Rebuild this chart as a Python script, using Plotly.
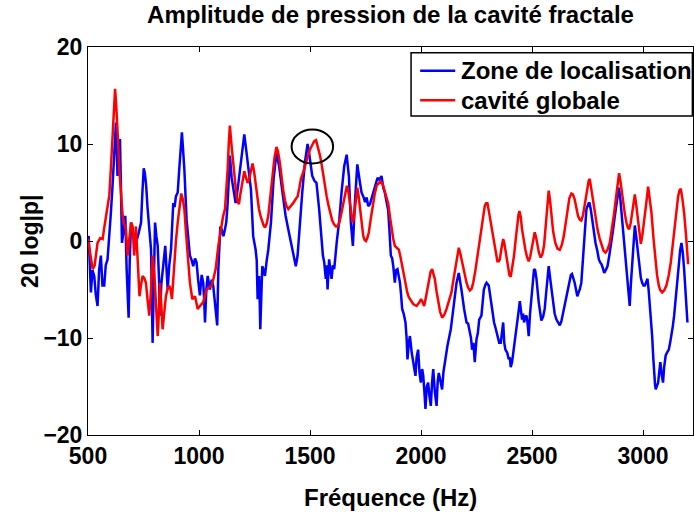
# ======================================
# Amplitude de pression - cavité fractale
# ======================================

import plotly.graph_objects as go

# ======================================
# DATA
# ======================================

zone_freq = [
    500, 503, 513, 520, 528, 535, 543, 550, 558, 565, 573, 580, 588, 595,
    603, 610, 618, 626, 633, 638, 644, 648, 653, 660, 668, 674, 683, 688,
    694, 705, 716, 728, 739, 745, 751, 756, 762, 768, 774, 784, 791, 797,
    802, 808, 814, 820, 824, 830, 836, 842, 848, 854, 859, 866, 874, 884,
    890, 896, 904, 911, 918, 923, 928, 934, 944, 952, 959, 967, 974, 982,
    989, 996, 1004, 1012, 1019, 1023, 1027, 1033, 1039, 1049, 1057, 1064,
    1070, 1075, 1082, 1087, 1091, 1096, 1102, 1110, 1117, 1123, 1129, 1134,
    1139, 1147, 1154, 1160, 1165, 1175, 1184, 1195, 1204, 1212, 1219, 1234,
    1244, 1255, 1260, 1264, 1268, 1271, 1276, 1280, 1285, 1291, 1297, 1305,
    1312, 1324, 1336, 1349, 1361, 1376, 1390, 1402, 1414, 1424, 1430, 1436,
    1444, 1454, 1465, 1477, 1489, 1495, 1500, 1510, 1520, 1529, 1541, 1552,
    1558, 1564, 1571, 1575, 1579, 1586, 1592, 1597, 1603, 1609, 1620, 1632,
    1642, 1654, 1665, 1675, 1684, 1693, 1702, 1713, 1725, 1732, 1740, 1748,
    1755, 1762, 1770, 1785, 1795, 1804, 1812, 1822, 1830, 1837, 1845, 1852,
    1858, 1864, 1870, 1875, 1882, 1888, 1894, 1900, 1905, 1910, 1915, 1922,
    1930, 1935, 1939, 1945, 1950, 1958, 1965, 1970, 1975, 1980, 1987, 1993,
    1999, 2005, 2010, 2015, 2020, 2026, 2032, 2038, 2044, 2050, 2055, 2062,
    2070, 2075, 2080, 2088, 2095, 2101, 2107, 2113, 2119, 2126, 2134, 2140,
    2149, 2155, 2160, 2170, 2176, 2182, 2194, 2205, 2212, 2220, 2225, 2230,
    2236, 2242, 2250, 2256, 2262, 2272, 2278, 2283, 2290, 2295, 2305, 2310,
    2317, 2323, 2329, 2336, 2344, 2352, 2359, 2365, 2370, 2375, 2380, 2388,
    2395, 2400, 2404, 2410, 2415, 2425, 2437, 2445, 2450, 2455, 2460, 2464,
    2470, 2475, 2480, 2485, 2491, 2497, 2503, 2509, 2514, 2520, 2530, 2537,
    2542, 2550, 2557, 2565, 2575, 2584, 2595, 2602, 2610, 2618, 2625, 2632,
    2640, 2648, 2655, 2662, 2670, 2675, 2680, 2686, 2692, 2698, 2704, 2710,
    2715, 2722, 2728, 2734, 2745, 2755, 2759, 2765, 2771, 2779, 2786, 2794,
    2801, 2807, 2813, 2819, 2825, 2832, 2840, 2848, 2855, 2864, 2873, 2882,
    2891, 2897, 2903, 2909, 2915, 2920, 2925, 2929, 2933, 2937, 2940, 2945,
    2951, 2957, 2963, 2969, 2975, 2980, 2985, 2990, 2996, 3002, 3008, 3014,
    3020, 3025, 3030, 3036, 3041, 3046, 3050, 3054, 3057, 3062, 3068, 3073,
    3078, 3084, 3090, 3095, 3102, 3108, 3116, 3122, 3128, 3134, 3140, 3145,
    3150, 3156, 3161, 3167, 3173, 3179, 3185, 3190, 3195, 3200,
]

zone_db = [
    0.3, 0.5, -5.3, -3.0, -3.6, -5.5, -6.7, -3.0, -1.5, -4.6, -4.6, -2.5, -1.9, 0.0,
    2.9, 5.5, 8.8, 12.2, 6.7, 9.0, 10.5, 6.0, -0.2, 1.0, 2.6, -2.9, -7.9, -2.0,
    1.9, 0.5, -0.2, 0.8, 1.9, 5.0, 7.5, 7.0, 5.7, 3.5, 1.9, -0.9, -10.5, -3.0,
    1.9, 0.5, -0.5, -4.0, -7.7, -4.5, -2.9, -1.2, -0.5, -3.0, -5.0, -2.5, -0.9, 3.9,
    3.5, 4.6, 5.0, 7.4, 9.5, 11.2, 9.5, 7.4, 2.2, 0.2, -1.5, -2.0, -2.6, -1.8,
    -2.2, -4.0, -5.6, -3.5, -4.3, -6.0, -8.4, -5.0, -3.6, -5.0, -4.0, -4.6,
    -6.0, -7.4, -8.7, -3.0, -0.2, 1.5, 1.2, 0.5, 1.2, 2.0, 3.9, 6.0,
    8.8, 6.5, 5.3, 4.5, 3.9, 5.5, 7.4, 9.5, 11.0, 9.5, 8.1, 5.3,
    0.5, -0.9, -2.0, -6.0, -4.0, -3.6, -9.1, -4.5, -2.6, -3.0, -3.6, -2.0,
    -0.9, 1.9, 6.4, 9.1, 7.7, 5.0, 2.6, 1.2, -0.2, -1.5, -2.2, -2.6,
    -1.5, 1.9, 5.0, 8.1, 10.0, 9.2, 8.4, 6.7, 6.2, 6.0, 3.3, -0.2,
    -1.5, -2.2, -3.9, -2.5, -5.0, -1.9, -3.0, -3.9, -2.5, -2.9, -0.2, 2.2,
    5.0, 7.7, 8.9, 6.7, 1.9, -0.5, 3.9, 7.9, 6.0, 5.0, 4.6, 4.0,
    4.5, 3.6, 3.8, 5.0, 5.8, 6.5, 6.3, 6.7, 5.5, 5.0, 4.0, 3.2,
    1.0, -1.5, -1.8, -2.6, -4.3, -3.0, -2.9, -3.5, -4.3, -5.5, -7.0, -7.5,
    -8.4, -10.0, -12.2, -10.5, -9.8, -11.5, -12.5, -13.0, -13.9, -12.0, -11.2, -13.5,
    -14.6, -13.2, -13.9, -15.5, -17.3, -15.0, -14.6, -16.0, -17.0, -14.5, -13.2, -15.5,
    -17.0, -14.5, -13.6, -14.5, -15.3, -13.5, -12.5, -11.5, -10.8, -10.0, -9.1, -8.0,
    -6.3, -5.0, -4.3, -3.3, -4.0, -5.0, -7.0, -8.4, -8.5, -9.4, -10.0, -11.2,
    -10.5, -12.5, -10.1, -9.5, -8.1, -7.7, -6.0, -5.0, -4.5, -4.3, -4.6, -5.5,
    -6.7, -7.5, -8.4, -9.0, -9.8, -10.5, -10.5, -9.0, -8.4, -10.5, -11.2, -11.5,
    -12.2, -12.0, -13.0, -12.5, -11.5, -9.8, -7.7, -6.2, -7.5, -8.1, -7.5, -8.4,
    -7.8, -7.7, -8.5, -9.8, -7.5, -5.7, -4.0, -2.9, -3.0, -3.9, -6.3, -7.5,
    -8.2, -7.8, -7.0, -5.0, -2.6, -4.3, -6.3, -7.5, -8.1, -8.5, -8.7, -8.3,
    -7.4, -6.5, -5.7, -4.8, -3.9, -3.5, -3.4, -3.8, -4.3, -5.0, -5.7, -5.3,
    -5.0, -4.3, -2.0, 0.2, 3.3, 3.9, 3.9, 3.2, 2.2, 1.0, -0.2, -1.0,
    -1.9, -2.2, -2.4, -2.8, -3.3, -3.0, -2.6, -1.5, -0.5, 1.0, 2.6, 4.0,
    5.5, 4.5, 2.9, 1.5, 0.2, -1.0, -2.2, -3.5, -5.0, -6.0, -6.7, -4.5,
    -2.2, 0.0, 1.6, 0.5, -0.9, -2.0, -2.9, -3.8, -4.3, -4.6, -4.6, -4.3,
    -3.9, -5.0, -6.3, -8.0, -9.8, -12.0, -13.9, -14.8, -15.3, -15.0, -14.6, -13.5,
    -12.5, -13.8, -14.6, -13.0, -11.8, -11.5, -11.2, -10.5, -9.8, -8.8, -7.7, -6.5,
    -5.0, -3.5, -2.2, -1.0, -0.2, -1.2, -2.9, -4.5, -6.0, -8.4,
]

globale_freq = [
    500, 510, 521, 530, 543, 555, 566, 574, 581, 588, 596, 603, 611, 617,
    622, 627, 631, 636, 641, 648, 656, 663, 671, 678, 686, 694, 701, 708,
    716, 724, 732, 739, 746, 753, 761, 768, 776, 784, 791, 799, 806, 814,
    819, 824, 830, 836, 843, 851, 858, 866, 872, 878, 884, 889, 896, 904,
    912, 920, 927, 934, 941, 949, 959, 970, 982, 994, 1004, 1019, 1034, 1045,
    1057, 1066, 1075, 1087, 1099, 1108, 1117, 1123, 1129, 1134, 1139, 1146,
    1154, 1162, 1169, 1175, 1180, 1186, 1192, 1198, 1204, 1212, 1219, 1224,
    1229, 1235, 1241, 1248, 1255, 1262, 1270, 1278, 1285, 1291, 1297, 1305,
    1312, 1320, 1330, 1340, 1349, 1356, 1364, 1371, 1379, 1387, 1394, 1402,
    1410, 1424, 1435, 1444, 1452, 1459, 1468, 1477, 1488, 1499, 1510, 1519,
    1527, 1535, 1545, 1553, 1560, 1568, 1575, 1583, 1590, 1600, 1609, 1617,
    1624, 1632, 1639, 1647, 1654, 1660, 1666, 1672, 1677, 1684, 1692, 1697,
    1702, 1708, 1713, 1719, 1725, 1732, 1740, 1746, 1752, 1758, 1765, 1773,
    1782, 1791, 1800, 1809, 1818, 1828, 1837, 1845, 1852, 1860, 1867, 1875,
    1882, 1890, 1900, 1908, 1915, 1922, 1930, 1938, 1945, 1955, 1965, 1972,
    1980, 1990, 2000, 2007, 2014, 2022, 2029, 2036, 2043, 2050, 2056, 2062,
    2070, 2077, 2086, 2095, 2105, 2115, 2125, 2137, 2146, 2155, 2162, 2170,
    2177, 2185, 2195, 2205, 2212, 2220, 2228, 2235, 2245, 2254, 2263, 2272,
    2280, 2287, 2293, 2299, 2306, 2314, 2321, 2329, 2336, 2344, 2350, 2355,
    2362, 2370, 2375, 2380, 2386, 2392, 2398, 2404, 2411, 2419, 2427, 2434,
    2439, 2443, 2449, 2455, 2462, 2470, 2478, 2485, 2492, 2500, 2506, 2512,
    2518, 2524, 2531, 2539, 2546, 2554, 2560, 2565, 2570, 2575, 2581, 2587,
    2595, 2605, 2615, 2625, 2634, 2643, 2651, 2659, 2668, 2677, 2684, 2692,
    2700, 2707, 2715, 2722, 2730, 2737, 2745, 2750, 2755, 2760, 2766, 2775,
    2785, 2795, 2804, 2813, 2822, 2831, 2840, 2850, 2860, 2870, 2880, 2887,
    2892, 2898, 2904, 2910, 2918, 2925, 2931, 2937, 2944, 2951, 2957, 2963,
    2969, 2975, 2982, 2990, 2997, 3005, 3014, 3023, 3030, 3038, 3047, 3056,
    3063, 3071, 3078, 3086, 3095, 3105, 3115, 3125, 3134, 3143, 3150, 3158,
    3164, 3170, 3177, 3185, 3194, 3203,
]

globale_db = [
    0.2, -1.5, -2.9, -2.5, -0.2, 0.3, 0.2, 1.5, 2.6, 3.5, 4.7, 7.5, 10.8, 13.5,
    15.7, 14.0, 12.5, 10.0, 7.4, 5.0, 2.6, 1.8, 1.2, -1.5, 0.0, 1.9, 1.5, -1.5,
    1.5, -2.2, -5.7, -4.5, -3.6, -3.8, -4.3, -6.0, -7.7, -5.0, -1.5, -3.5, -7.0, -9.8,
    -7.5, -4.3, -6.5, -9.1, -7.5, -5.7, -5.0, -4.6, -5.0, -6.0, -4.0, -2.2, 0.0, 1.9,
    3.5, 4.9, 4.3, 3.3, 1.0, -1.8, -4.3, -6.0, -5.7, -7.0, -6.7, -6.3, -5.0, -4.8,
    -4.6, -3.8, -2.9, -0.5, 1.5, 2.5, 3.3, 5.0, 7.4, 10.0, 11.9, 10.0,
    8.1, 6.0, 4.6, 4.0, 3.8, 4.8, 5.7, 6.8, 7.2, 6.5, 6.0, 6.2,
    6.7, 7.5, 8.0, 7.2, 6.0, 4.5, 3.3, 2.5, 2.0, 1.6, 1.4, 1.8,
    2.6, 4.5, 6.7, 8.6, 9.7, 9.2, 8.1, 6.7, 5.3, 4.2, 3.6, 3.3,
    3.5, 3.9, 4.3, 4.6, 5.5, 6.4, 7.0, 7.7, 8.6, 9.4, 9.9, 10.3,
    10.4, 9.8, 8.8, 7.8, 6.7, 5.6, 4.6, 3.7, 2.9, 2.1, 1.7, 1.5,
    1.5, 1.9, 2.6, 3.6, 4.6, 5.3, 5.7, 5.2, 4.3, 3.0, 1.9, 2.3,
    3.3, 4.6, 5.5, 4.6, 3.3, 1.8, 0.5, 0.1, 0.0, 0.3, 0.9, 2.2,
    3.6, 4.8, 5.7, 6.0, 6.2, 5.8, 5.0, 4.4, 3.9, 2.5, 1.2, 0.2,
    -0.5, -0.7, -0.9, -1.7, -2.6, -3.6, -4.6, -5.3, -5.8, -6.2, -6.5, -6.6,
    -6.7, -6.4, -6.0, -6.3, -6.7, -5.8, -5.0, -4.0, -3.2, -2.9, -3.3, -3.9,
    -5.2, -6.3, -7.3, -7.9, -7.6, -7.0, -6.3, -5.3, -4.0, -2.6, -1.5, -0.7,
    -1.3, -2.2, -3.4, -4.3, -4.8, -5.1, -4.9, -4.3, -3.0, -1.5, 0.0, 1.6,
    2.8, 3.6, 3.9, 3.9, 3.0, 1.9, 0.7, -0.5, -1.4, -2.1, -2.1, -1.9,
    -0.8, 0.2, -0.2, -0.9, -2.0, -2.9, -3.5, -3.7, -2.8, -1.5, 0.3, 1.9,
    2.7, 3.1, 2.5, 1.2, 0.1, -0.9, -1.7, -2.1, -1.6, -0.5, 0.4, 0.9,
    0.4, -0.5, -1.2, -1.7, -1.4, -0.5, 1.0, 2.9, 4.3, 5.2, 4.2, 2.6,
    1.0, -0.2, -0.8, -0.9, -0.4, 0.5, 1.8, 3.3, 4.4, 4.9, 4.8, 4.3,
    3.5, 2.6, 2.2, 2.1, 2.7, 3.6, 5.0, 5.6, 6.2, 6.4, 5.5, 3.9,
    2.4, 1.2, 0.3, -0.5, -1.0, -1.2, -0.9, -0.2, 1.2, 2.9, 4.8, 6.3,
    7.0, 6.2, 5.0, 3.9, 2.8, 1.9, 1.4, 1.2, 1.8, 2.9, 4.0, 4.8,
    3.8, 2.6, 1.0, -0.3, 0.6, 1.9, 3.8, 5.6, 4.5, 2.9, 0.3, -2.2,
    -3.5, -4.6, -5.1, -5.3, -5.1, -4.6, -3.6, -2.2, -0.2, 1.9, 3.3, 4.6,
    5.2, 5.4, 4.4, 2.9, 0.5, -2.4,
]

series_names = ["Zone de localisation", "cavité globale"]
series_colors = ["#0000ff", "#ff0000"]

x_ticks = [500, 1000, 1500, 2000, 2500, 3000]
y_ticks = [-20, -10, 0, 10, 20]

# ======================================
# FIGURE
# ======================================

FONT = "Liberation Sans, Arial, Helvetica, sans-serif"

fig = go.Figure()

fig.add_trace(go.Scatter(
    x=zone_freq, y=zone_db, mode="lines",
    name=series_names[0], showlegend=False,
    line=dict(color=series_colors[0], width=2.5),
))

fig.add_trace(go.Scatter(
    x=globale_freq, y=globale_db, mode="lines",
    name=series_names[1], showlegend=False,
    line=dict(color=series_colors[1], width=2.5),
))

# circle around the peak near 1500 Hz
fig.add_shape(
    type="circle", xref="x", yref="y",
    x0=1417, x1=1604, y0=8.0, y1=11.5,
    line=dict(color="black", width=2),
)

# ======================================
# LEGEND (matlab style box, drawn by hand
# so the row spacing stays tight)
# ======================================

fig.add_shape(
    type="rect", xref="paper", yref="paper",
    x0=0.534, x1=0.999, y0=0.822, y1=0.985,
    line=dict(color="black", width=1.5), fillcolor="white",
    layer="above",
)

legend_rows = [0.939, 0.863]
for name, color, ypos in zip(series_names, series_colors, legend_rows):
    fig.add_shape(
        type="line", xref="paper", yref="paper",
        x0=0.549, x1=0.607, y0=ypos, y1=ypos,
        line=dict(color=color, width=2.5), layer="above",
    )
    fig.add_annotation(
        text="<b>" + name + "</b>", xref="paper", yref="paper",
        x=0.614, y=ypos, xanchor="left", yanchor="middle",
        showarrow=False,
        font=dict(family=FONT, size=24, color="black"),
    )

# ======================================
# AXES
# ======================================

axis_common = dict(
    showgrid=False, zeroline=False, automargin=False,
    showline=True, linecolor="black", linewidth=1,
    mirror="ticks", ticks="inside", ticklen=5, tickcolor="black",
    tickfont=dict(family=FONT, size=23, color="black", weight="bold"),
)

fig.update_xaxes(range=[500, 3225], tickvals=x_ticks, **axis_common)
fig.update_yaxes(range=[-20, 20], tickvals=y_ticks, **axis_common)

# axis titles as annotations (placed like the matlab export)
fig.add_annotation(
    text="<b>Fréquence (Hz)</b>", xref="paper", yref="paper",
    x=0.5, y=-0.16, xanchor="center", yanchor="middle", showarrow=False,
    font=dict(family=FONT, size=24, color="black"),
)
fig.add_annotation(
    text="<b>20 log|p|</b>", xref="paper", yref="paper",
    x=-0.096, y=0.5, xanchor="center", yanchor="middle", showarrow=False,
    textangle=-90,
    font=dict(family=FONT, size=23, color="black"),
)

fig.update_layout(
    width=694, height=515,
    margin=dict(l=88, r=1, t=47, b=80),
    paper_bgcolor="white", plot_bgcolor="white",
    title=dict(
        text="<b>Amplitude de pression de la cavité fractale</b>",
        xref="paper", x=0.5, xanchor="center", y=0.972, yanchor="middle",
        font=dict(family=FONT, size=24, color="black"),
    ),
    showlegend=False,
)

# drop the default 8px body margin so the figure fills the window,
# and hide the modebar that would sit on the title
fig.write_html(
    "out.html",
    config={"displayModeBar": False},
    post_script="document.body.style.margin='0';"
                "document.body.style.overflow='hidden';",
)
print("Chart Saved Successfully")
